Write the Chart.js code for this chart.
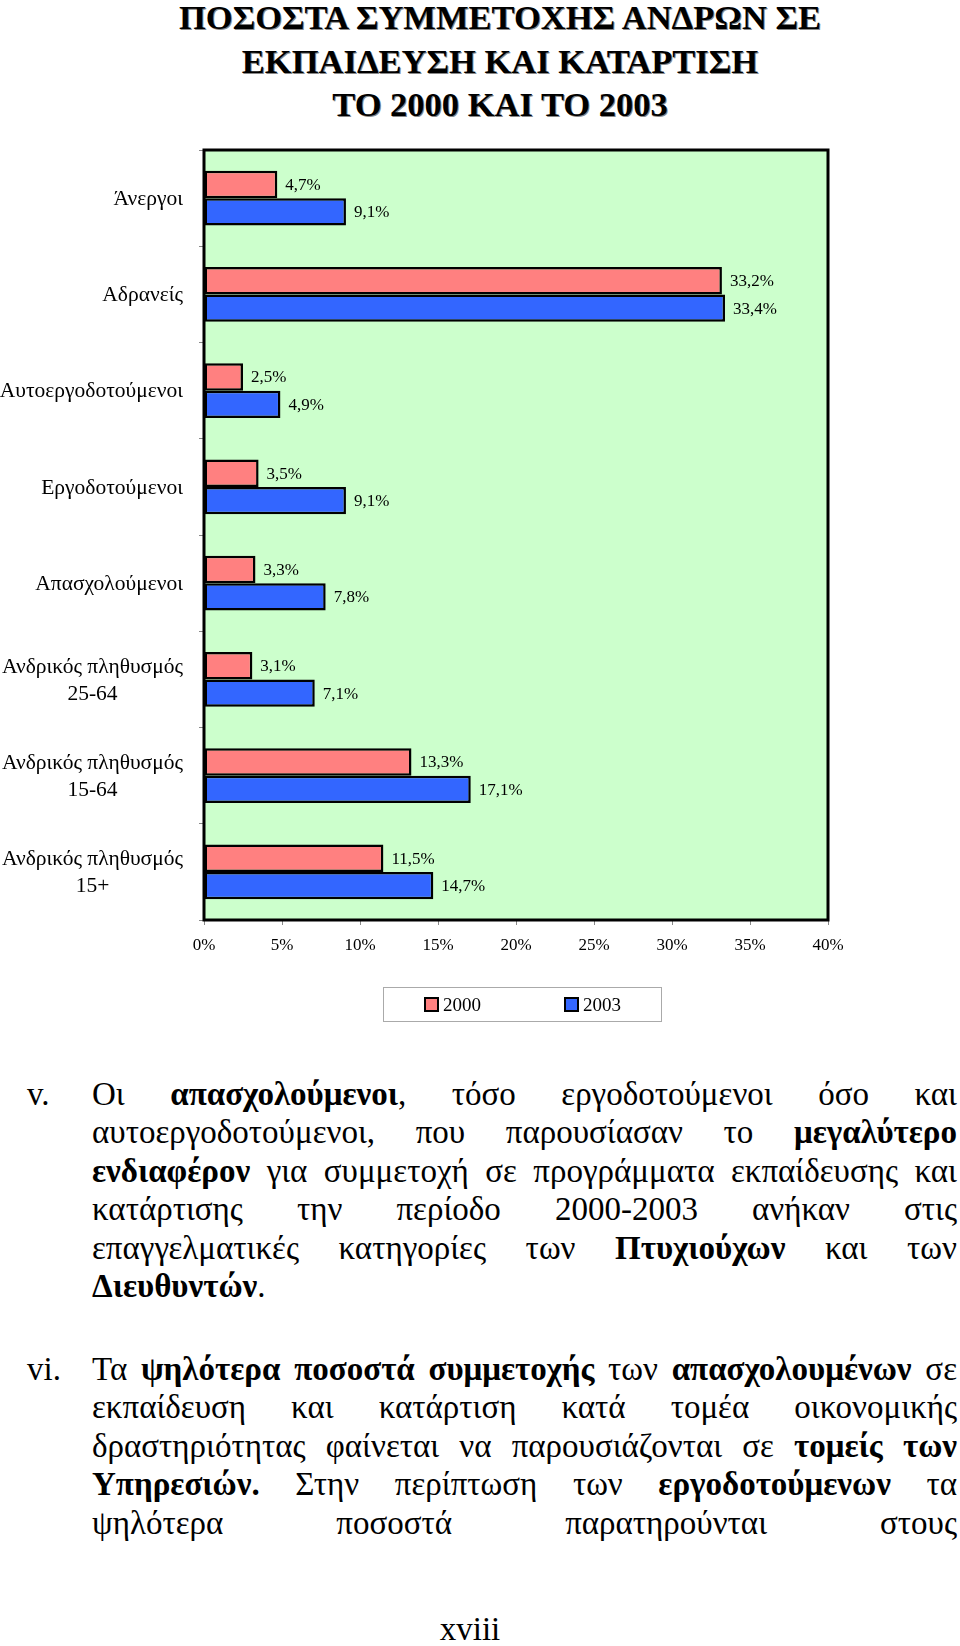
<!DOCTYPE html>
<html lang="el">
<head>
<meta charset="utf-8">
<title>Ποσοστά συμμετοχής ανδρών σε εκπαίδευση και κατάρτιση</title>
<script src="https://cdn.jsdelivr.net/npm/chart.js@4.4.1/dist/chart.umd.min.js"></script>
<style>
  html, body { margin: 0; padding: 0; background: #fff; }
  body { width: 960px; height: 1646px; position: relative; overflow: hidden; font-family: "Liberation Serif", "Times New Roman", serif; color: #000; }
  #title { position: absolute; left: 50px; top: -4px; width: 900px; text-align: center; font-weight: bold; font-size: 34.5px; line-height: 43.5px; text-shadow: 1px 1px 0 #888; }
  #chart { position: absolute; left: 0; top: 130px; }
  #legend { position: absolute; left: 383px; top: 987px; width: 277px; height: 33px; border: 1px solid #aaa; font-size: 19px; }
  .legend-item { position: absolute; top: 5px; line-height: 23px; }
  .legend-item span { display: inline-block; width: 11px; height: 11px; border: 2px solid #000; vertical-align: -1px; margin-right: 4px; }
  .para { position: absolute; left: 92px; width: 865px; font-size: 33px; line-height: 38.4px; }
  .para div { text-align: justify; text-align-last: justify; }
  .para div.last { text-align: left; text-align-last: left; }
  .marker { position: absolute; left: 27px; font-size: 33px; line-height: 38.4px; }
  #page { position: absolute; left: 420px; top: 1610px; width: 100px; text-align: center; font-size: 33px; line-height: 38.4px; }
</style>
</head>
<body>
<div id="title">ΠΟΣΟΣΤΑ ΣΥΜΜΕΤΟΧΗΣ ΑΝΔΡΩΝ ΣΕ<br>ΕΚΠΑΙΔΕΥΣΗ ΚΑΙ ΚΑΤΑΡΤΙΣΗ<br>ΤΟ 2000 ΚΑΙ ΤΟ 2003</div>
<canvas id="chart" width="960" height="860"></canvas>
<div id="legend"></div>

<div class="marker" style="top:1075px">v.</div>
<div class="para" style="top:1075px">
  <div>Οι <b>απασχολούμενοι</b>, τόσο εργοδοτούμενοι όσο και</div>
  <div>αυτοεργοδοτούμενοι, που παρουσίασαν το <b>μεγαλύτερο</b></div>
  <div><b>ενδιαφέρον</b> για συμμετοχή σε προγράμματα εκπαίδευσης και</div>
  <div>κατάρτισης την περίοδο 2000-2003 ανήκαν στις</div>
  <div>επαγγελματικές κατηγορίες των <b>Πτυχιούχων</b> και των</div>
  <div class="last"><b>Διευθυντών</b>.</div>
</div>

<div class="marker" style="top:1350px">vi.</div>
<div class="para" style="top:1350px">
  <div>Τα <b>ψηλότερα ποσοστά συμμετοχής</b> των <b>απασχολουμένων</b> σε</div>
  <div>εκπαίδευση και κατάρτιση κατά τομέα οικονομικής</div>
  <div>δραστηριότητας φαίνεται να παρουσιάζονται σε <b>τομείς των</b></div>
  <div><b>Υπηρεσιών.</b> Στην περίπτωση των <b>εργοδοτούμενων</b> τα</div>
  <div>ψηλότερα ποσοστά παρατηρούνται στους</div>
</div>

<div id="page">xviii</div>

<script>
// Chart data
const categories = [
  ['Άνεργοι'],
  ['Αδρανείς'],
  ['Αυτοεργοδοτούμενοι'],
  ['Εργοδοτούμενοι'],
  ['Απασχολούμενοι'],
  ['Ανδρικός πληθυσμός', '25-64'],
  ['Ανδρικός πληθυσμός', '15-64'],
  ['Ανδρικός πληθυσμός', '15+']
];
const seriesNames = ['2000', '2003'];
const values2000 = [4.7, 33.2, 2.5, 3.5, 3.3, 3.1, 13.3, 11.5];
const values2003 = [9.1, 33.4, 4.9, 9.1, 7.8, 7.1, 17.1, 14.7];
const xTickValues = [0, 5, 10, 15, 20, 25, 30, 35, 40];

const serifFont = '"Liberation Serif", "Times New Roman", serif';
const seriesColors = ['#FF8080', '#3366FF'];

function formatPercent(v) {
  return v.toFixed(1).replace('.', ',') + '%';
}

// Green plot area background
const plotBackground = {
  id: 'plotBackground',
  beforeDatasetsDraw(chart) {
    const a = chart.chartArea;
    const ctx = chart.ctx;
    ctx.save();
    ctx.fillStyle = '#CCFFCC';
    ctx.fillRect(a.left, a.top, a.right - a.left, a.bottom - a.top);
    ctx.restore();
  }
};

// Black frame round the plot area
const plotBorder = {
  id: 'plotBorder',
  afterDatasetsDraw(chart) {
    const a = chart.chartArea;
    const ctx = chart.ctx;
    ctx.save();
    ctx.strokeStyle = '#000';
    ctx.lineWidth = 3;
    ctx.strokeRect(a.left, a.top, a.right - a.left, a.bottom - a.top);
    ctx.restore();
  }
};

// Value labels to the right of each bar
const barLabels = {
  id: 'barLabels',
  afterDatasetsDraw(chart) {
    const ctx = chart.ctx;
    ctx.save();
    ctx.font = '17px ' + serifFont;
    ctx.fillStyle = '#000';
    ctx.textAlign = 'left';
    ctx.textBaseline = 'middle';
    chart.data.datasets.forEach((ds, i) => {
      chart.getDatasetMeta(i).data.forEach((bar, j) => {
        ctx.fillText(formatPercent(ds.data[j]), bar.x + 8, bar.y + 1);
      });
    });
    ctx.restore();
  }
};

// Category labels: right aligned block, lines centred inside it
const categoryLabels = {
  id: 'categoryLabels',
  afterDraw(chart) {
    const ctx = chart.ctx;
    const yScale = chart.scales.y;
    const rightX = yScale.right - 21;
    const lineHeight = 27;
    ctx.save();
    ctx.font = '21.5px ' + serifFont;
    ctx.fillStyle = '#000';
    ctx.textAlign = 'center';
    ctx.textBaseline = 'middle';
    categories.forEach((lines, i) => {
      const y = yScale.getPixelForValue(i);
      const maxW = Math.max(...lines.map(l => ctx.measureText(l).width));
      const cx = rightX - maxW / 2;
      const startY = y - (lines.length - 1) * lineHeight / 2;
      lines.forEach((l, k) => ctx.fillText(l, cx, startY + k * lineHeight + 1));
    });
    ctx.restore();
  }
};

function buildLegend(chart) {
  const legend = document.getElementById('legend');
  const offsets = [40, 180];
  chart.data.datasets.forEach((ds, i) => {
    const item = document.createElement('div');
    item.className = 'legend-item';
    item.style.left = offsets[i] + 'px';
    item.innerHTML = '<span style="background:' + ds.backgroundColor + '"></span>' + ds.label;
    legend.appendChild(item);
  });
}

const ctx = document.getElementById('chart').getContext('2d');
const chart = new Chart(ctx, {
  type: 'bar',
  data: {
    labels: categories.map(c => c.join(' ')),
    datasets: [
      {
        label: seriesNames[0],
        data: values2000,
        backgroundColor: seriesColors[0],
        borderColor: '#000',
        borderWidth: 2.5,
        borderSkipped: false
      },
      {
        label: seriesNames[1],
        data: values2003,
        backgroundColor: seriesColors[1],
        borderColor: '#000',
        borderWidth: 2.5,
        borderSkipped: false
      }
    ]
  },
  options: {
    indexAxis: 'y',
    responsive: false,
    animation: false,
    devicePixelRatio: 1,
    layout: { padding: { top: 20, right: 132, bottom: 30, left: 0 } },
    datasets: { bar: { categoryPercentage: 0.571, barPercentage: 1.0 } },
    scales: {
      x: {
        min: 0,
        max: 40,
        afterBuildTicks: function(scale) {
          scale.ticks = xTickValues.map(v => ({ value: v }));
        },
        afterFit: function(scale) { scale.height = 40; },
        grid: { drawOnChartArea: false, drawTicks: true, tickLength: 5, color: '#888' },
        border: { display: false },
        ticks: {
          color: '#000',
          padding: 10,
          font: { family: serifFont, size: 17 },
          callback: function(value) { return value + '%'; }
        }
      },
      y: {
        afterFit: function(scale) { scale.width = 204; },
        grid: { drawOnChartArea: false, drawTicks: true, tickLength: 5, color: '#888', offset: true },
        border: { display: false },
        ticks: { display: false }
      }
    },
    plugins: {
      legend: { display: false },
      title: { display: false },
      tooltip: { enabled: false }
    }
  },
  plugins: [plotBackground, plotBorder, barLabels, categoryLabels]
});

buildLegend(chart);
</script>
</body>
</html>
